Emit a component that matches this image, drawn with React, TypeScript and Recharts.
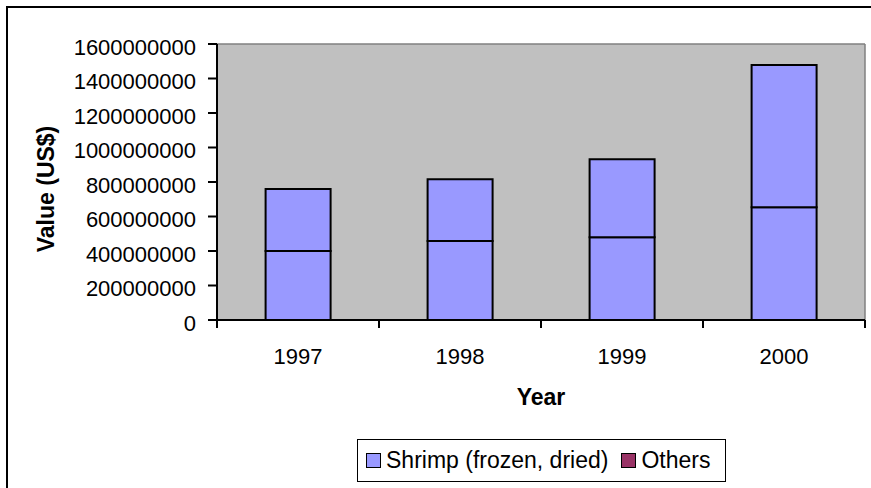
import React from 'react';
import { BarChart, Bar, XAxis, YAxis, CartesianGrid, Legend, Label } from 'recharts';

const categories = ['1997', '1998', '1999', '2000'];
const shrimpValues = [400000000, 458000000, 479000000, 653000000];
const othersValues = [359000000, 358000000, 453000000, 825000000];
const yTicks = [0, 200000000, 400000000, 600000000, 800000000, 1000000000, 1200000000, 1400000000, 1600000000];
const seriesNames = ['Shrimp (frozen, dried)', 'Others'];
const legendColors = ['#9999FF', '#993366'];
const barColor = '#9999FF';

const data = categories.map((c, i) => ({ year: c, shrimp: shrimpValues[i], others: othersValues[i] }));

const FONT = 'Arial, "Liberation Sans", sans-serif';

const XTick = (props: any) => {
  const { x, y, payload, index, visibleTicksCount, width } = props;
  const count = visibleTicksCount || categories.length;
  const bw = width && count ? width / count : 162;
  return (
    <g>
      <line x1={x - bw / 2} y1={y} x2={x - bw / 2} y2={y + 8} stroke="#000" strokeWidth={2} />
      {index === count - 1 && (
        <line x1={x + bw / 2} y1={y} x2={x + bw / 2} y2={y + 8} stroke="#000" strokeWidth={2} />
      )}
      <text x={x} y={y + 44} textAnchor="middle" fontSize={22} fontFamily={FONT} fill="#000">
        {payload.value}
      </text>
    </g>
  );
};

const LegendContent = () => (
  <div
    style={{
      boxSizing: 'border-box',
      width: 369,
      height: 43,
      border: '1.5px solid #000',
      background: '#fff',
      display: 'flex',
      alignItems: 'center',
      paddingLeft: 8,
      fontFamily: FONT,
      fontSize: 23,
      color: '#000',
      whiteSpace: 'nowrap',
    }}
  >
    {seriesNames.map((n, i) => (
      <div key={n} style={{ display: 'flex', alignItems: 'center', marginRight: i === 0 ? 13 : 0 }}>
        <span
          style={{
            display: 'inline-block',
            boxSizing: 'border-box',
            width: 15,
            height: 15,
            background: legendColors[i],
            border: '1.5px solid #000',
            marginRight: 5,
          }}
        />
        <span>{n}</span>
      </div>
    ))}
  </div>
);

export default function App() {
  return (
    <div style={{ position: 'absolute', left: 0, top: 0, width: 871, height: 488, overflow: 'hidden', background: '#fff' }}>
      <div
        style={{
          position: 'absolute',
          left: 6,
          top: 6,
          width: 900,
          height: 500,
          border: '2px solid #000',
        }}
      />
      <div style={{ position: 'absolute', left: 0, top: 0 }}>
        <BarChart
          width={871}
          height={488}
          data={data}
          margin={{ top: 44, right: 6, bottom: 80, left: 0 }}
          barCategoryGap="30%"
        >
          <CartesianGrid
            fill="#C0C0C0"
            stroke="#808080"
            strokeWidth={1.5}
            horizontalCoordinatesGenerator={({ offset }: any) => [offset.top]}
            verticalCoordinatesGenerator={({ offset }: any) => [offset.left + offset.width]}
          />
          <XAxis
            dataKey="year"
            height={88}
            axisLine={{ stroke: '#000', strokeWidth: 2 }}
            tickLine={false}
            tickSize={0}
            tickMargin={0}
            tick={<XTick />}
            interval={0}
          >
            <Label
              value="Year"
              position="insideBottom"
              offset={3}
              style={{ fontWeight: 'bold', fontSize: 23, fontFamily: FONT, fill: '#000' }}
            />
          </XAxis>
          <YAxis
            width={217}
            domain={[0, 1600000000]}
            ticks={yTicks}
            interval={0}
            axisLine={{ stroke: '#000', strokeWidth: 2 }}
            tickLine={{ stroke: '#000', strokeWidth: 2 }}
            tickSize={9}
            tickMargin={12}
            tick={{ fontSize: 22, fontFamily: FONT, fill: '#000', dy: 3 }}
          >
            <Label
              value="Value (US$)"
              angle={-90}
              position="insideLeft"
              offset={46}
              dy={7}
              style={{ fontWeight: 'bold', fontSize: 23, fontFamily: FONT, fill: '#000', textAnchor: 'middle' }}
            />
          </YAxis>
          <Legend
            layout="horizontal"
            verticalAlign="middle"
            align="center"
            wrapperStyle={{ position: 'absolute', left: 357, top: 439, width: 369, height: 43 }}
            content={<LegendContent />}
          />
          <Bar
            dataKey="shrimp"
            name={seriesNames[0]}
            stackId="a"
            fill={barColor}
            stroke="#000"
            strokeWidth={2}
            isAnimationActive={false}
          />
          <Bar
            dataKey="others"
            name={seriesNames[1]}
            stackId="a"
            fill={barColor}
            stroke="#000"
            strokeWidth={2}
            isAnimationActive={false}
          />
        </BarChart>
      </div>
    </div>
  );
}
